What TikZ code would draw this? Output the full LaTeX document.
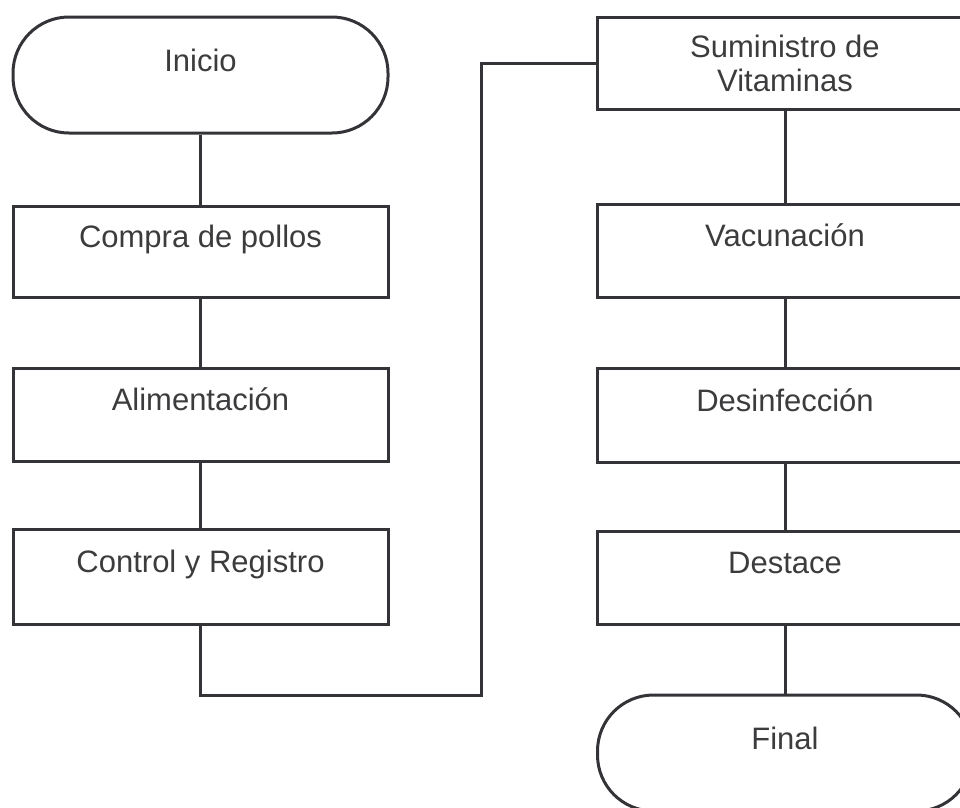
\documentclass[tikz,border=0pt]{standalone}
\usepackage{fontspec}
\setmainfont{Liberation Sans}
\definecolor{trazo}{RGB}{52,52,56}
\definecolor{letra}{RGB}{60,60,62}
\tikzset{
  caja/.style={draw=trazo,line width=3pt,text=letra,inner sep=0pt,
    minimum width=375pt,align=center,
    font=\fontsize{31}{34}\selectfont},
  paso/.style={caja,text height=22pt,text depth=30pt},
  terminal/.style={paso,rounded corners=56pt,minimum height=116pt},
  linea/.style={draw=trazo,line width=3pt}
}
\begin{document}
\begin{tikzpicture}[x=1pt,y=-1pt]
\clip (0,0) rectangle (960,807);
\coordinate (giro) at (481,695);
\node [terminal] (inicio) at (200.5,75) {Inicio};
\node [paso,minimum height=91pt] (compra) at (200.5,251.5) {Compra de pollos};
\node [paso,minimum height=93pt] (alimentacion) at (200.5,414.5) {Alimentación};
\node [paso,minimum height=95pt] (control) at (200.5,576.5) {Control y Registro};
\node [caja,minimum height=92pt] (suministro) at (785,63) {Suministro de\\Vitaminas};
\node [paso,minimum height=93pt] (vacunacion) at (785,250.5) {Vacunación};
\node [paso,minimum height=94pt] (desinfeccion) at (785,415) {Desinfección};
\node [paso,minimum height=93pt] (destace) at (785,577.5) {Destace};
\node [terminal] (final) at (785,753) {Final};
\draw [linea] (inicio) -- (compra);
\draw [linea] (compra) -- (alimentacion);
\draw [linea] (alimentacion) -- (control);
\draw [linea] (control.south) |- (giro) |- (suministro.west);
\draw [linea] (suministro) -- (vacunacion);
\draw [linea] (vacunacion) -- (desinfeccion);
\draw [linea] (desinfeccion) -- (destace);
\draw [linea] (destace) -- (final);
\end{tikzpicture}
\end{document}
